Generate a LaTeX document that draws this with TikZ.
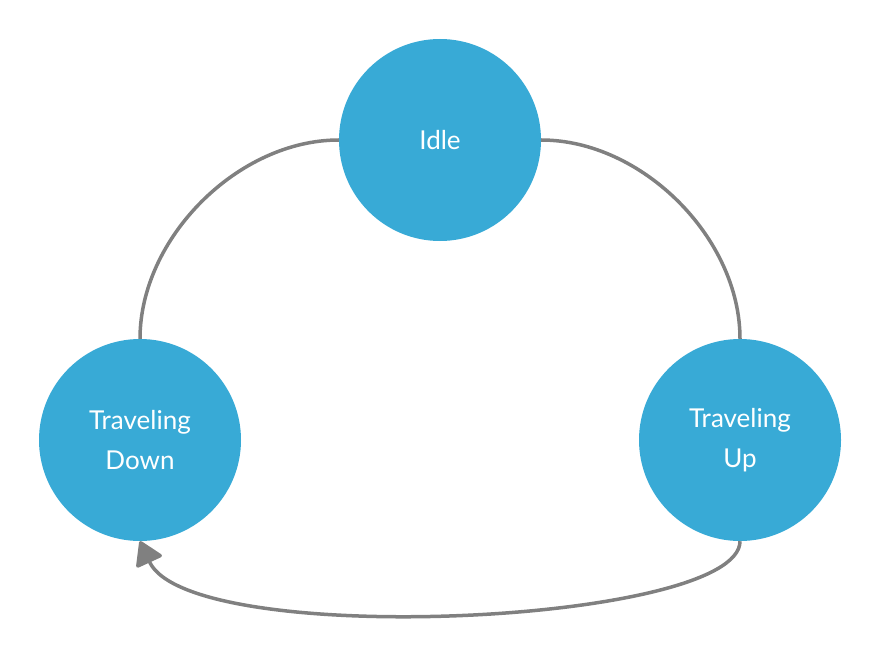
\documentclass[tikz,border=0pt]{standalone}
\usepackage{fontspec}
\setmainfont{Lato}
\usepackage{tikz}
\usetikzlibrary{arrows.meta}
\definecolor{stateblue}{RGB}{56,170,214}
\definecolor{linegray}{RGB}{128,128,128}

\begin{document}
\begin{tikzpicture}[x=1pt, y=-1pt, line join=round,
    state/.style={circle, fill=stateblue, draw=none, minimum size=202pt, inner sep=0pt,
        text=white, align=center, font=\fontsize{26}{40}\selectfont},
    link/.style={draw=linegray, line width=3.5pt}]

    % Fix the page size
    \useasboundingbox (0,0) rectangle (880,655);

    % ==========================================
    % STATES
    % ==========================================
    \node[state] (idle) at (440,140) {Idle};
    \node[state] (down) at (140,440) {Traveling\\Down};
    \node[state] (up)   at (740,440) {Traveling\\Up};

    % ==========================================
    % TRANSITIONS
    % ==========================================

    % Idle to the two travel states
    \draw[link] (idle.west) .. controls (238,140) and (140,238) .. (down.north);
    \draw[link] (idle.east) .. controls (642,140) and (740,238) .. (up.north);

    % Up back round to Down, arrow at the end
    \draw[link, -{Triangle[length=25pt, width=30pt, round]}]
        (up.south) .. controls (740,624) and (190,650) .. (down.south);

\end{tikzpicture}
\end{document}
